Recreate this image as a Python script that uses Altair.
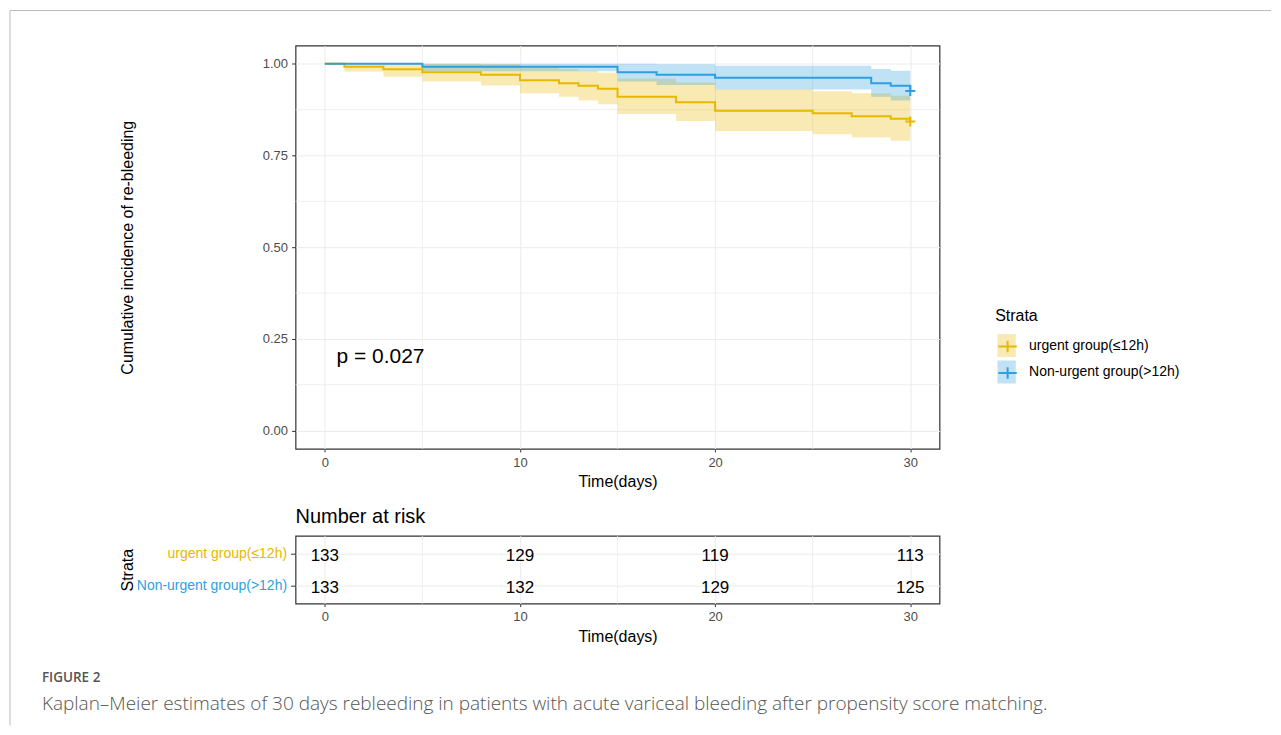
import altair as alt
import pandas as pd

# ---------------- data ----------------
STRATA = ["urgent group(≤12h)", "Non-urgent group(>12h)"]
KEYS = ["urgent", "non-urgent"]
COLORS = ["#E7B800", "#2E9FDF"]

URGENT_TIME = [0, 1, 3, 5, 8, 10, 12, 13, 14, 15, 18, 20, 25, 27, 29, 30]
URGENT_SURV = [1.000, 0.992, 0.985, 0.977, 0.970, 0.955, 0.947, 0.940, 0.932,
               0.910, 0.895, 0.872, 0.865, 0.857, 0.850, 0.843]
URGENT_UPPER = [1.000, 1.000, 1.000, 1.000, 0.999, 0.991, 0.986, 0.981, 0.976,
                0.960, 0.949, 0.931, 0.925, 0.920, 0.913, 0.913]
URGENT_LOWER = [1.000, 0.979, 0.965, 0.952, 0.941, 0.920, 0.910, 0.900, 0.890,
                0.863, 0.844, 0.817, 0.808, 0.799, 0.790, 0.790]

NONURGENT_TIME = [0, 5, 15, 17, 20, 28, 29, 30]
NONURGENT_SURV = [1.000, 0.992, 0.977, 0.970, 0.962, 0.947, 0.940, 0.926]
NONURGENT_UPPER = [1.000, 1.000, 1.000, 0.999, 0.995, 0.986, 0.981, 0.981]
NONURGENT_LOWER = [1.000, 0.980, 0.952, 0.942, 0.930, 0.910, 0.900, 0.900]

RISK_TIME = [0, 10, 20, 30]
URGENT_AT_RISK = [133, 129, 119, 113]
NONURGENT_AT_RISK = [133, 132, 129, 125]

X_TICKS = [0, 10, 20, 30]
X_MINOR = [5, 15, 25]
Y_TICKS = [0, 0.25, 0.5, 0.75, 1.0]
Y_MINOR = [0.125, 0.375, 0.625, 0.875]

P_TEXT = "p = 0.027"
CAPTION_LABEL = "FIGURE 2"
CAPTION_TEXT = ("Kaplan\u2013Meier estimates of 30 days rebleeding in patients with acute "
                "variceal bleeding after propensity score matching.")

# ---------------- tables ----------------
def curve(i, time, surv, upper, lower):
    return pd.DataFrame({"strata": STRATA[i], "key": KEYS[i], "time": time,
                         "surv": surv, "upper": upper, "lower": lower})

km = pd.concat([curve(0, URGENT_TIME, URGENT_SURV, URGENT_UPPER, URGENT_LOWER),
                curve(1, NONURGENT_TIME, NONURGENT_SURV, NONURGENT_UPPER, NONURGENT_LOWER)],
               ignore_index=True)
censor = km.groupby("strata", sort=False).tail(1)

risk = pd.concat([
    pd.DataFrame({"strata": STRATA[0], "time": RISK_TIME, "n": URGENT_AT_RISK}),
    pd.DataFrame({"strata": STRATA[1], "time": RISK_TIME, "n": NONURGENT_AT_RISK}),
], ignore_index=True)

# ---------------- styling ----------------
FONT = "Liberation Sans"
W = 645
H_TOP = 404
H_RISK = 68

xs = alt.Scale(domain=[-1.5, 31.5], nice=False, zero=False)
ys = alt.Scale(domain=[-0.05, 1.05], nice=False, zero=False)
fill_scale = alt.Scale(domain=STRATA, range=COLORS)
stroke_scale = alt.Scale(domain=KEYS, range=COLORS)

common_axis = dict(grid=True, gridColor="#EBEBEB", gridWidth=1, domain=False,
                   tickColor="#333333", labelColor="#4D4D4D", labelFont=FONT,
                   labelFontSize=13, titleFont=FONT, titleFontSize=16,
                   titleFontWeight="normal", titleColor="black")

x_axis = alt.Axis(values=X_TICKS, format="d", title="Time(days)", tickSize=3,
                  labelPadding=5, titlePadding=4, **common_axis)
y_axis = alt.Axis(values=Y_TICKS, format=".2f", title="Cumulative incidence of re-bleeding",
                  tickSize=4, labelPadding=4, titleX=-168, titleY=H_TOP / 2,
                  titleAngle=-90, titleAlign="center", titleBaseline="middle",
                  **common_axis)

LEG_X = 700.7
LEG_Y = 263
fill_legend = alt.Legend(title="Strata", orient="none", legendX=LEG_X, legendY=LEG_Y,
                         symbolType="M-0.8,-1H0.8V1H-0.8Z", symbolSize=529,
                         symbolOpacity=0.3, symbolStrokeWidth=0,
                         labelFont=FONT, labelFontSize=14, labelColor="black",
                         labelOffset=11, rowPadding=3.5, titlePadding=10, padding=0,
                         titleFont=FONT, titleFontSize=16, titleFontWeight="normal",
                         titleColor="black")
stroke_legend = alt.Legend(title="Strata", orient="none", legendX=LEG_X, legendY=LEG_Y,
                           symbolType="M-0.8,0H0.8M0,-0.5V0.5", symbolSize=529,
                           symbolStrokeWidth=2, symbolFillColor="transparent",
                           labelFont=FONT, labelFontSize=14, labelExpr="''",
                           labelOffset=11, rowPadding=3.5, titlePadding=10, padding=0,
                           titleFont=FONT, titleFontSize=16, titleFontWeight="normal",
                           titleOpacity=0)

one = pd.DataFrame({"a": [0]})

# ---------------- top panel ----------------
frame_h = alt.Chart(one).mark_rule(color="#BBBBBB", strokeWidth=1).encode(
    x=alt.value(-286), x2=alt.value(977), y=alt.value(-35))
frame_v = alt.Chart(one).mark_rule(color="#BBBBBB", strokeWidth=1).encode(
    x=alt.value(-286), y=alt.value(-35), y2=alt.value(681))

minor_x = alt.Chart(pd.DataFrame({"t": X_MINOR})).mark_rule(
    color="#EBEBEB", strokeWidth=0.8).encode(x=alt.X("t:Q", scale=xs, axis=x_axis))
minor_y = alt.Chart(pd.DataFrame({"v": Y_MINOR})).mark_rule(
    color="#EBEBEB", strokeWidth=0.8).encode(y=alt.Y("v:Q", scale=ys, axis=y_axis))

def band(i):
    return alt.Chart(km).transform_filter(alt.datum.strata == STRATA[i]).mark_area(
        interpolate="step-after", opacity=0.3).encode(
        x=alt.X("time:Q", scale=xs, axis=x_axis),
        y=alt.Y("lower:Q", scale=ys, axis=y_axis),
        y2="upper:Q",
        fill=alt.Fill("strata:N", scale=fill_scale, legend=fill_legend))

def line(i):
    return alt.Chart(km).transform_filter(alt.datum.strata == STRATA[i]).mark_line(
        interpolate="step-after", strokeWidth=2).encode(
        x=alt.X("time:Q", scale=xs, axis=x_axis),
        y=alt.Y("surv:Q", scale=ys, axis=y_axis),
        stroke=alt.Stroke("key:N", scale=stroke_scale, legend=stroke_legend))

marks = alt.Chart(censor).mark_point(
    shape="M-1,0H1M0,-1V1", size=100, filled=False, strokeWidth=2, opacity=1).encode(
    x=alt.X("time:Q", scale=xs, axis=x_axis),
    y=alt.Y("surv:Q", scale=ys, axis=y_axis),
    stroke=alt.Stroke("key:N", scale=stroke_scale, legend=stroke_legend))

ptext = alt.Chart(pd.DataFrame({"label": [P_TEXT]})).mark_text(
    align="left", baseline="middle", font=FONT, fontSize=21, color="black").encode(
    x=alt.X(datum=0.6, scale=xs), y=alt.Y(datum=0.2, scale=ys), text="label:N")

top = alt.layer(frame_h, frame_v, minor_x, minor_y, band(0), band(1),
                line(0), line(1), marks, ptext).properties(width=W, height=H_TOP)

# ---------------- risk table ----------------
rx_axis = alt.Axis(values=X_TICKS, format="d", title="Time(days)", tickSize=3,
                   labelPadding=4, titlePadding=5, **common_axis)
label_color = {"condition": {"test": f"datum.value === '{STRATA[0]}'", "value": COLORS[0]},
               "value": COLORS[1]}
ry_axis = alt.Axis(title="Strata", titleX=-168, titleY=H_RISK / 2, titleAngle=-90,
                   titleAlign="center", titleBaseline="middle", tickSize=5,
                   labelPadding=4, grid=True, gridColor="#EBEBEB", gridWidth=1,
                   domain=False, tickColor="#333333", labelColor=label_color,
                   labelFont=FONT, labelFontSize=14, titleFont=FONT, titleFontSize=16,
                   titleFontWeight="normal", titleColor="black")
ry_scale = alt.Scale(type="point", domain=STRATA, padding=0.56)

rminor = alt.Chart(pd.DataFrame({"t": X_MINOR})).mark_rule(
    color="#EBEBEB", strokeWidth=0.8).encode(x=alt.X("t:Q", scale=xs, axis=rx_axis))

rtext = alt.Chart(risk).mark_text(font=FONT, fontSize=17, color="black",
                                  baseline="middle", dy=2).encode(
    x=alt.X("time:Q", scale=xs, axis=rx_axis),
    y=alt.Y("strata:N", scale=ry_scale, axis=ry_axis, sort=STRATA),
    text="n:Q")

cap1 = alt.Chart(pd.DataFrame({"c": [CAPTION_LABEL]})).mark_text(
    align="left", baseline="middle", font="Open Sans", fontSize=13.5, fontWeight=600,
    color="#555555").encode(x=alt.value(-254), y=alt.value(142), text="c:N")
cap2 = alt.Chart(pd.DataFrame({"c": [CAPTION_TEXT]})).mark_text(
    align="left", baseline="middle", font="Open Sans", fontSize=19, fontWeight=300,
    color="#555555").encode(x=alt.value(-254), y=alt.value(169), text="c:N")

riskchart = alt.layer(rminor, rtext, cap1, cap2).properties(
    width=W, height=H_RISK,
    title=alt.Title("Number at risk", anchor="start", frame="group", font=FONT,
                    fontSize=20, fontWeight="normal", color="black", offset=8))

chart = alt.vconcat(top, riskchart, spacing=87, bounds="flush").properties(
    padding={"left": 0, "top": 0, "right": 0, "bottom": 0},
    background="white",
).configure_view(stroke="#333333", strokeWidth=1.2)

chart.save("out.html", embed_options={"renderer": "svg", "actions": False})
